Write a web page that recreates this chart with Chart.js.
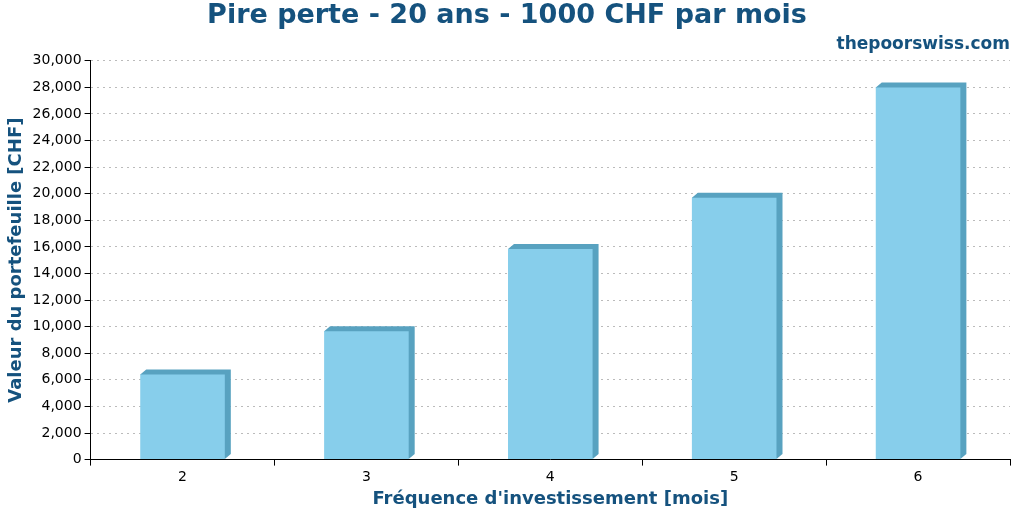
<!DOCTYPE html>
<html><head><meta charset="utf-8">
<script src="https://cdn.jsdelivr.net/npm/chart.js@4"></script>
<style>html,body{margin:0;padding:0;background:#fff}#w{width:1024px;height:512px}</style>
</head><body><div id="w"><canvas id="c"></canvas></div>
<script>
const categories = ["2","3","4","5","6"];
const values = [6400, 9650, 15850, 19700, 28000];
const title = "Pire perte - 20 ans - 1000 CHF par mois";
const subtitle = "thepoorswiss.com";
const xLabel = "Fréquence d'investissement [mois]";
const yLabel = "Valeur du portefeuille [CHF]";
const blue = "#15527e";

const depth = {
  id: 'depth',
  beforeDatasetsDraw(chart) {
    const ctx = chart.ctx, d = 6;
    chart.getDatasetMeta(0).data.forEach(b => {
      const l = b.x - b.width/2, r = b.x + b.width/2, t = b.y, bo = b.base;
      ctx.save();
      ctx.fillStyle = "#58a2c0";
      ctx.beginPath();
      ctx.moveTo(l, t); ctx.lineTo(l+d, t-d+1); ctx.lineTo(r+d, t-d+1);
      ctx.lineTo(r+d, bo-d+1); ctx.lineTo(r, bo); ctx.closePath(); ctx.fill();
      ctx.restore();
    });
  }
};

new Chart(document.getElementById('c'), {
  type: 'bar',
  data: { labels: categories, datasets: [{ data: values, backgroundColor: "#87ceeb", barPercentage: 0.46, categoryPercentage: 1 }] },
  options: {
    responsive: true, maintainAspectRatio: false, animation: false,
    layout: { padding: { left: 4, right: 14, top: 0, bottom: 2 } },
    plugins: {
      legend: { display: false }, tooltip: { enabled: false },
      title: { display: true, text: title, color: blue, font: { family: "DejaVu Sans", size: 27, weight: "bold" }, padding: { top: 0, bottom: 0 } },
      subtitle: { display: true, text: subtitle, align: "end", color: blue, font: { family: "DejaVu Sans", size: 17, weight: "bold" }, padding: { top: 2, bottom: 6 } }
    },
    scales: {
      x: {
        grid: { display: true, offset: true, drawOnChartArea: false, color: "#000", tickLength: 6 },
        border: { color: "#000" },
        ticks: { color: "#000", font: { family: "DejaVu Sans", size: 14 } },
        title: { display: true, text: xLabel, color: blue, font: { family: "DejaVu Sans", size: 18, weight: "bold" }, padding: 0 }
      },
      y: {
        min: 0, max: 30000,
        ticks: { stepSize: 2000, color: "#000", font: { family: "DejaVu Sans", size: 14 } },
        grid: { color: "#bbb", tickColor: "#000", tickLength: 6, tickBorderDash: [], borderDash: [2,4] },
        border: { color: "#000", dash: [2,4] },
        title: { display: true, text: yLabel, color: blue, font: { family: "DejaVu Sans", size: 18, weight: "bold" }, padding: 2 }
      }
    }
  },
  plugins: [depth]
});
</script></body></html>
